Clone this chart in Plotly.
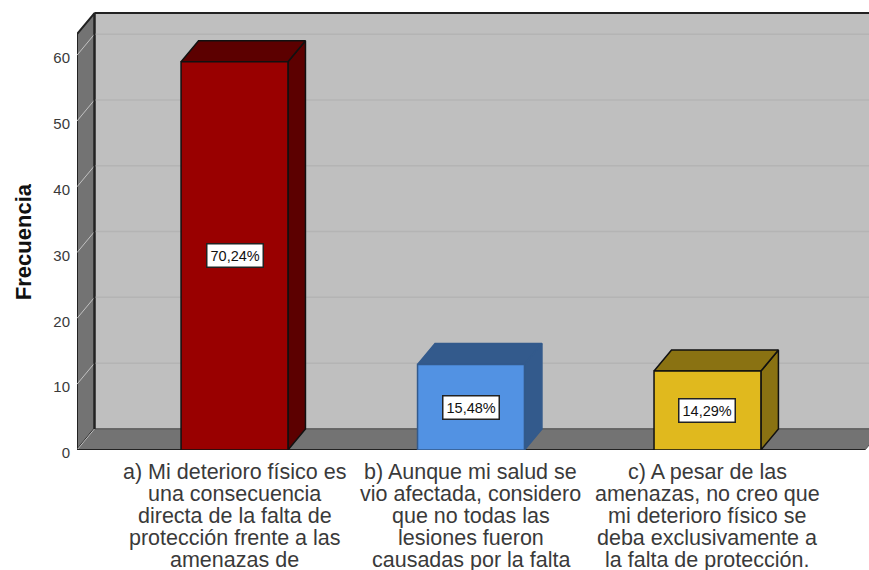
import plotly.graph_objects as go

category_lines = [
    ["a) Mi deterioro físico es", "una consecuencia", "directa de la falta de", "protección frente a las", "amenazas de"],
    ["b) Aunque mi salud se", "vio afectada, considero", "que no todas las", "lesiones fueron", "causadas por la falta"],
    ["c) A pesar de las", "amenazas, no creo que", "mi deterioro físico se", "deba exclusivamente a", "la falta de protección."],
]
positions = [0, 1, 2]
values = [59, 13, 12]
pct_labels = ["70,24%", "15,48%", "14,29%"]
front_colors = ["#990000", "#5292E3", "#E0B91E"]
dark_colors = ["#5C0000", "#335A8C", "#8A7212"]
edge_colors = ["#111111", "#335A8C", "#111111"]
y_ticks = [0, 10, 20, 30, 40, 50, 60]

# fake 3D depth, in data units
DX = 0.074
DY = 3.2
BAR_W = 0.452
X_MIN = -0.666
X_END = 2.666
Y_TOP = 63.2

fig = go.Figure()


def poly(xs, ys, fill, edge, width=1.5):
    fig.add_trace(go.Scatter(
        x=xs, y=ys, mode="lines", fill="toself", fillcolor=fill,
        line=dict(color=edge, width=width), hoverinfo="skip", showlegend=False,
    ))


def seg(xs, ys, color, width=1.5):
    fig.add_trace(go.Scatter(
        x=xs, y=ys, mode="lines", line=dict(color=color, width=width),
        hoverinfo="skip", showlegend=False,
    ))


# walls
poly([X_MIN + DX, X_END + DX, X_END + DX, X_MIN + DX, X_MIN + DX],
     [DY, DY, Y_TOP + DY, Y_TOP + DY, DY], "#BFBFBF", "#555555", 1)
poly([X_MIN, X_MIN + DX, X_MIN + DX, X_MIN, X_MIN],
     [0, DY, Y_TOP + DY, Y_TOP, 0], "#737373", "#222222", 2)
poly([X_MIN, X_END, X_END + DX, X_MIN + DX, X_MIN],
     [0, 0, DY, DY, 0], "#737373", "#555555", 1)

# grid, back wall plus the slant on the side wall
for t in y_ticks:
    if t > 0:
        seg([X_MIN + DX, X_END + DX], [t + DY, t + DY], "#B4B4B4", 1.5)
    seg([X_MIN, X_MIN + DX], [t, t + DY], "#C2C2C2", 1)

seg([X_MIN + DX, X_END + DX], [Y_TOP + DY, Y_TOP + DY], "#222222", 2)
seg([X_MIN + DX, X_MIN + DX], [DY, Y_TOP + DY], "#222222", 2)
seg([X_MIN, X_END], [0, 0], "#222222", 2)

# bars
for p, v, c, d, e in zip(positions, values, front_colors, dark_colors, edge_colors):
    l = p - BAR_W / 2
    r = p + BAR_W / 2
    poly([r, r + DX, r + DX, r, r], [0, DY, v + DY, v, 0], d, e)
    poly([l, l + DX, r + DX, r, l], [v, v + DY, v + DY, v, v], d, e)
    poly([l, r, r, l, l], [0, 0, v, v, 0], c, e)

for p, v, txt in zip(positions, values, pct_labels):
    fig.add_annotation(
        x=p, y=v / 2, text=txt, showarrow=False,
        font=dict(family="Liberation Sans", size=14.5, color="#111111"),
        bgcolor="white", bordercolor="#222222", borderwidth=1.5, borderpad=3,
    )

# one annotation per line, tick labels can't do this tight a line spacing
for p, lines in zip(positions, category_lines):
    for i, line in enumerate(lines):
        fig.add_annotation(
            x=p, xref="x", y=0, yref="paper", yanchor="middle", yshift=-22 - 22 * i,
            text=line, showarrow=False, captureevents=False,
            font=dict(family="Liberation Sans", size=21.5, color="#3A3A3A"),
        )

fig.add_annotation(
    xref="paper", yref="paper", x=-0.0682, y=0.464, xanchor="center", yanchor="middle",
    text="<b>Frecuencia</b>", textangle=-90, showarrow=False,
    font=dict(family="Liberation Sans", size=22, color="#111111"),
)

fig.update_layout(
    width=869, height=570,
    margin=dict(l=77, r=0, t=0, b=120),
    paper_bgcolor="white", plot_bgcolor="white",
    showlegend=False,
)
fig.update_xaxes(
    range=[X_MIN, 2.683], showticklabels=False,
    showgrid=False, zeroline=False, showline=False, ticks="",
)
fig.update_yaxes(
    range=[0, 68.39], tickmode="array", tickvals=y_ticks,
    showgrid=False, zeroline=False, showline=False, ticks="",
    ticklabelstandoff=6, ticklabelshift=3,
    tickfont=dict(family="Liberation Sans", size=15, color="#3A3A3A"),
)

fig.write_html("out.html", config={"displayModeBar": False},
               post_script="document.body.style.margin='0';")
